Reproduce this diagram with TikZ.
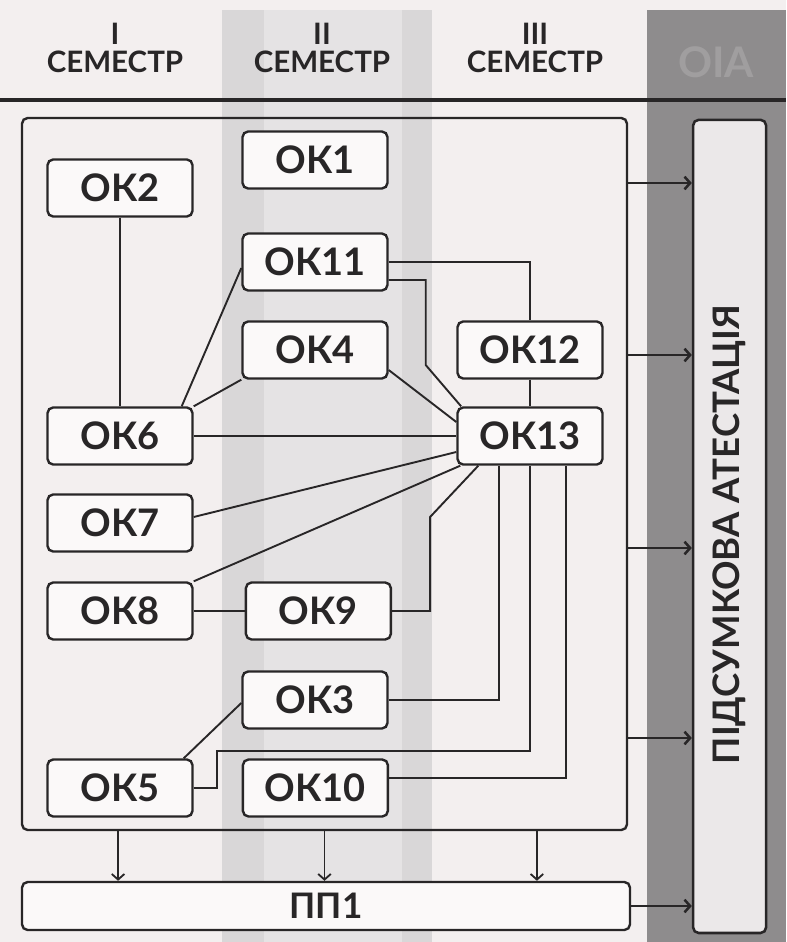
\documentclass[tikz,border=0pt]{standalone}
\usepackage{fontspec}
\setmainfont{Lato}
\usepackage{tikz}
\usetikzlibrary{arrows.meta,positioning}
\definecolor{ink}{RGB}{40,38,39}
\definecolor{paper}{RGB}{243,239,239}
\definecolor{stripe}{RGB}{229,227,228}
\definecolor{stripedark}{RGB}{217,215,216}
\definecolor{band}{RGB}{142,140,141}
\definecolor{bandtext}{RGB}{160,158,159}
\definecolor{boxfill}{RGB}{251,249,249}
\definecolor{finalfill}{RGB}{235,232,233}

\begin{document}
\begin{tikzpicture}[
every node/.style={font=\bfseries, text=ink},
course/.style={rectangle, rounded corners=4pt, draw=ink, line width=1.7pt, fill=boxfill, minimum width=3.625cm, minimum height=1.425cm, font=\fontsize{27}{30}\selectfont\bfseries},
sem_label/.style={align=center, font=\fontsize{21}{20}\selectfont\bfseries},
panel/.style={rectangle, rounded corners=4pt, draw=ink, line width=1.7pt, minimum width=15.125cm, minimum height=17.8cm},
practice/.style={rectangle, rounded corners=4pt, draw=ink, line width=1.7pt, fill=boxfill, minimum width=15.2cm, minimum height=1.2cm, font=\fontsize{25}{28}\selectfont\bfseries},
final/.style={rectangle, rounded corners=4pt, draw=ink, line width=1.8pt, fill=finalfill, minimum width=1.825cm, minimum height=20.33cm},
link/.style={draw=ink, line width=1.35pt},
arrow/.style={-{Straight Barb[length=4pt,width=9pt]}, draw=ink, line width=1.8pt}
]

% Page and semester columns

\useasboundingbox (0,0) rectangle (19.65,-23.55);
\fill[paper] (0,0) rectangle (19.65,-23.55);
\fill[stripe] (5.55,-0.25) rectangle (10.8,-23.55);
\fill[stripedark] (5.55,-0.25) rectangle (6.6,-23.55);
\fill[stripedark] (10.05,-0.25) rectangle (10.8,-23.55);
\fill[band] (16.175,-0.25) rectangle (19.65,-23.55);

% Header

\node[sem_label] (sem1) at (2.875,-1.2) {I\\СЕМЕСТР};
\node[sem_label] (sem2) at (8.05,-1.2) {II\\СЕМЕСТР};
\node[sem_label] (sem3) at (13.375,-1.2) {III\\СЕМЕСТР};
\node[font=\fontsize{30}{30}\selectfont\bfseries, text=bandtext] (semfinal) at (17.9,-1.55) {ОІА};
\draw[ink, line width=2.2pt] (0,-2.5) -- (19.65,-2.5);

% Compulsory courses

\node[panel] (core) at (8.1125,-11.85) {};

\node[course] (ok1) at (7.875,-4.0) {ОК1};
\node[course] (ok2) at (3.0,-4.7) {ОК2};
\node[course] (ok11) at (7.875,-6.55) {ОК11};
\node[course] (ok4) at (7.875,-8.75) {ОК4};
\node[course] (ok12) at (13.25,-8.75) {ОК12};
\node[course] (ok6) at (3.0,-10.9) {ОК6};
\node[course] (ok13) at (13.25,-10.9) {ОК13};
\node[course] (ok7) at (3.0,-13.075) {ОК7};
\node[course] (ok8) at (3.0,-15.275) {ОК8};
\node[course, right=1.275cm of ok8] (ok9) {ОК9};
\node[course] (ok3) at (7.875,-17.5) {ОК3};
\node[course] (ok5) at (3.0,-19.7) {ОК5};
\node[course, right=1.2cm of ok5] (ok10) {ОК10};

% Links between courses

\draw[link] (ok2.south) -- (ok6.north);
\draw[link] ([xshift=-0.3cm]ok6.north east) -- ([yshift=-0.15cm]ok11.west);
\draw[link] (ok6.north east) -- (ok4.south west);
\draw[link] (ok6.east) -- (ok13.west);
\draw[link] (ok11.east) -| (ok12.north);
\draw[link] ([yshift=-0.45cm]ok11.east) -- ++(0.925cm,0) -- ++(0,-2.125cm) -- ([xshift=0.12cm]ok13.north west);
\draw[link] ([yshift=-0.5cm]ok4.east) -- ([yshift=0.35cm]ok13.west);
\draw[link] (ok12.south) -- (ok13.north);
\draw[link] ([yshift=0.15cm]ok7.east) -- ([yshift=-0.4cm]ok13.west);
\draw[link] (ok8.north east) -- ([xshift=0.1cm]ok13.south west);
\draw[link] (ok8.east) -- (ok9.west);
\draw[link] (ok9.east) -- ++(0.95cm,0) -- ++(0,2.35cm) -- ([xshift=0.55cm]ok13.south west);
\draw[link] (ok3.east) -| ([xshift=-0.775cm]ok13.south);
\draw[link] (ok5.east) -- ++(0.575cm,0) -- ++(0,0.925cm) -| (ok13.south);
\draw[link] ([yshift=0.25cm]ok10.east) -| ([xshift=0.9cm]ok13.south);
\draw[link] ([xshift=-0.25cm]ok5.north east) -- ([yshift=-0.075cm]ok3.west);

% Practice and final attestation

\node[practice] (pp1) at (8.15,-22.65) {ПП1};
\node[final] (final) at (18.24,-13.16) {};
\node[rotate=90, font=\fontsize{26}{28}\selectfont\bfseries] (finaltext) at ([yshift=-0.2cm]final.center) {ПІДСУМКОВА АТЕСТАЦІЯ};

\foreach \dy in {7.275,2.975,-1.85,-6.6}
  \draw[arrow] ([yshift=\dy cm]core.east) -- ([yshift=\dy cm]core.east -| final.west);
\foreach \dx in {-5.16,0,5.31}
  \draw[arrow, line width=1.3pt] ([xshift=\dx cm]core.south) -- ([xshift=\dx cm]core.south |- pp1.north);
\draw[arrow] (pp1.east) -- (pp1.east -| final.west);

\end{tikzpicture}
\end{document}
